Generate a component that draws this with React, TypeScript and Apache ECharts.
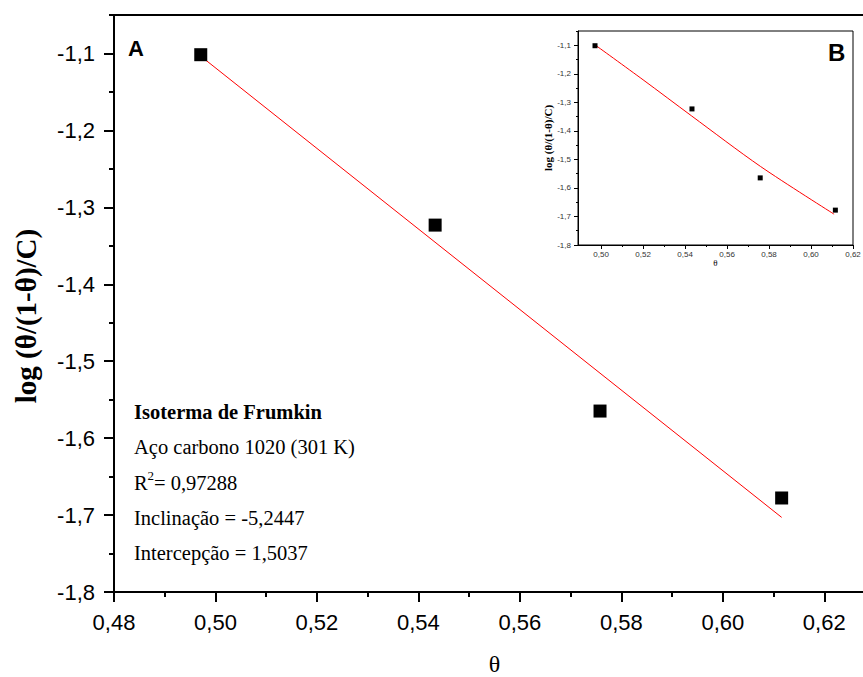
import React, { useEffect, useRef } from "react";
import * as echarts from "echarts";

// Data
const theta = [0.4971, 0.5433, 0.5758, 0.6116];
const logValues = [-1.1016, -1.3231, -1.5648, -1.6778];
const fitX = [0.4971, 0.6116];
const fitY = [-1.1035, -1.703];
const insetCurveX = [0.497, 0.52, 0.543, 0.576, 0.611];
const insetCurveY = [-1.098, -1.221, -1.347, -1.525, -1.692];

const mainXTicks = [0.48, 0.5, 0.52, 0.54, 0.56, 0.58, 0.6, 0.62];
const mainXMinor = [0.49, 0.51, 0.53, 0.55, 0.57, 0.59, 0.61];
const insetXTicks = [0.5, 0.52, 0.54, 0.56, 0.58, 0.6, 0.62];
const insetXMinor = [0.51, 0.53, 0.55, 0.57, 0.59, 0.61];
const yTicks = [-1.8, -1.7, -1.6, -1.5, -1.4, -1.3, -1.2, -1.1];
const yMinor = [-1.75, -1.65, -1.55, -1.45, -1.35, -1.25, -1.15, -1.05];

const annotationLines = [
  "Isoterma de Frumkin",
  "Aço carbono 1020 (301 K)",
  "= 0,97288",
  "Inclinação = -5,2447",
  "Intercepção = 1,5037",
];
const yTitle = "log (θ/(1-θ)/C)";
const xTitle = "θ";

const fmtX = (v: number) => v.toFixed(2).replace(".", ",");
const fmtY = (v: number) => v.toFixed(1).replace(".", ",");

export default function App() {
  const ref = useRef<HTMLDivElement>(null);
  useEffect(() => {
    if (!ref.current) return;
    const chart = echarts.init(ref.current, null, { renderer: "svg" });
    const sans = "Liberation Sans";
    const serif = "Liberation Serif";
    const pair = (xs: number[], ys: number[]) => xs.map((x, i) => [x, ys[i]]);

    const mkX = (grid: number, min: number, max: number, ticks: number[], minor: number[], big: boolean) => [
      {
        type: "value",
        gridIndex: grid,
        min,
        max,
        position: "bottom",
        axisLine: { show: true, onZero: false, lineStyle: { color: "#000", width: big ? 2 : 1 } },
        axisTick: { show: true, customValues: ticks, length: big ? 10 : 4, lineStyle: { color: "#000", width: big ? 2 : 1 } },
        axisLabel: {
          show: true,
          customValues: ticks,
          formatter: fmtX,
          fontFamily: sans,
          fontSize: big ? 22 : 8,
          color: big ? "#000" : "#333",
          margin: big ? 19 : 5,
        },
        splitLine: { show: false },
        name: xTitle,
        nameLocation: "middle",
        nameGap: big ? 60 : 13,
        nameTextStyle: { fontFamily: serif, fontSize: big ? 24 : 9, color: "#000" },
      },
      {
        type: "value",
        gridIndex: grid,
        min,
        max,
        position: "bottom",
        axisLine: { show: false },
        axisTick: { show: true, customValues: minor, length: big ? 5 : 2, lineStyle: { color: "#000", width: big ? 2 : 1 } },
        axisLabel: { show: false },
        splitLine: { show: false },
      },
    ];
    const mkY = (grid: number, big: boolean) => [
      {
        type: "value",
        gridIndex: grid,
        min: -1.8,
        max: -1.05,
        position: "left",
        axisLine: { show: true, onZero: false, lineStyle: { color: "#000", width: big ? 2 : 1 } },
        axisTick: { show: true, customValues: yTicks, length: big ? 10 : 4, lineStyle: { color: "#000", width: big ? 2 : 1 } },
        axisLabel: {
          show: true,
          customValues: yTicks,
          formatter: fmtY,
          fontFamily: sans,
          fontSize: big ? 22 : 8,
          color: big ? "#000" : "#333",
          margin: big ? 19 : 7,
        },
        splitLine: { show: false },
        name: big ? "" : yTitle,
        nameLocation: "middle",
        nameGap: 25,
        nameTextStyle: { fontFamily: serif, fontWeight: "bold", fontSize: 11, color: "#000" },
      },
      {
        type: "value",
        gridIndex: grid,
        min: -1.8,
        max: -1.05,
        position: "left",
        axisLine: { show: false },
        axisTick: { show: true, customValues: yMinor, length: big ? 5 : 2, lineStyle: { color: "#000", width: big ? 2 : 1 } },
        axisLabel: { show: false },
        splitLine: { show: false },
      },
    ];

    const topLine = {
      type: "value",
      gridIndex: 0,
      min: 0.48,
      max: 0.63,
      position: "top",
      axisLine: { show: true, onZero: false, lineStyle: { color: "#000", width: 2 } },
      axisTick: { show: false },
      axisLabel: { show: false },
      splitLine: { show: false },
    };

    const annY = [412, 447, 483, 518, 553];
    const fs = 20.5;
    const graphic: any[] = [
      { type: "text", left: 128, top: 37, style: { text: "A", font: `bold 22px "${sans}"`, fill: "#000" } },
      { type: "text", left: 828, top: 40, style: { text: "B", font: `bold 24px "${sans}"`, fill: "#000" } },
      {
        type: "text",
        x: 26,
        y: 316,
        rotation: Math.PI / 2,
        style: { text: yTitle, font: `bold 29px "${serif}"`, fill: "#000", align: "center", verticalAlign: "middle" },
      },
      { type: "text", x: 134, y: annY[0], style: { text: annotationLines[0], font: `bold ${fs}px "${serif}"`, fill: "#000", verticalAlign: "middle" } },
      { type: "text", x: 134, y: annY[1], style: { text: annotationLines[1], font: `${fs}px "${serif}"`, fill: "#000", verticalAlign: "middle" } },
      { type: "text", x: 134, y: annY[2], style: { text: "R", font: `${fs}px "${serif}"`, fill: "#000", verticalAlign: "middle" } },
      { type: "text", x: 147.5, y: annY[2] - 8, style: { text: "2", font: `13px "${serif}"`, fill: "#000", verticalAlign: "middle" } },
      { type: "text", x: 154, y: annY[2], style: { text: annotationLines[2], font: `${fs}px "${serif}"`, fill: "#000", verticalAlign: "middle" } },
      { type: "text", x: 134, y: annY[3], style: { text: annotationLines[3], font: `${fs}px "${serif}"`, fill: "#000", verticalAlign: "middle" } },
      { type: "text", x: 134, y: annY[4], style: { text: annotationLines[4], font: `${fs}px "${serif}"`, fill: "#000", verticalAlign: "middle" } },
    ];

    chart.setOption({
      animation: false,
      backgroundColor: "#fff",
      grid: [
        { left: 114, top: 15, right: -12, bottom: 85, show: false, outerBoundsMode: "none", containLabel: false },
        {
          left: 578,
          top: 31,
          right: 10,
          bottom: 432,
          show: true,
          borderColor: "#000",
          borderWidth: 1,
          backgroundColor: "#fff",
          outerBoundsMode: "none",
          containLabel: false,
        },
      ],
      xAxis: [
        ...mkX(0, 0.48, 0.63, mainXTicks, mainXMinor, true),
        ...mkX(1, 0.489, 0.62, insetXTicks, insetXMinor, false),
        topLine,
      ],
      yAxis: [...mkY(0, true), ...mkY(1, false)],
      series: [
        {
          type: "line",
          xAxisIndex: 0,
          yAxisIndex: 0,
          data: pair(fitX, fitY),
          showSymbol: false,
          lineStyle: { color: "#ff0000", width: 1 },
          z: 2,
        },
        {
          type: "scatter",
          xAxisIndex: 0,
          yAxisIndex: 0,
          data: pair(theta, logValues),
          symbol: "rect",
          symbolSize: 13,
          itemStyle: { color: "#000", opacity: 1 },
          z: 3,
        },
        {
          type: "line",
          xAxisIndex: 2,
          yAxisIndex: 2,
          data: pair(insetCurveX, insetCurveY),
          showSymbol: false,
          smooth: 0.3,
          lineStyle: { color: "#ff0000", width: 1 },
          z: 2,
        },
        {
          type: "scatter",
          xAxisIndex: 2,
          yAxisIndex: 2,
          data: pair(theta, logValues),
          symbol: "rect",
          symbolSize: 5,
          itemStyle: { color: "#000", opacity: 1 },
          z: 3,
        },
      ],
      graphic,
    });
    return () => chart.dispose();
  }, []);
  return <div ref={ref} style={{ position: "fixed", left: 0, top: 0, width: 863, height: 677 }} />;
}
